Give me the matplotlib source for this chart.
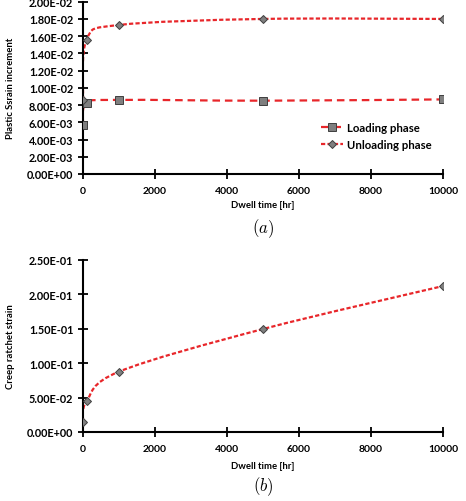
import numpy as np
import matplotlib
matplotlib.use("Agg")
import matplotlib.pyplot as plt
from matplotlib.path import Path
from matplotlib.patches import PathPatch
from matplotlib.lines import Line2D
from matplotlib.ticker import FuncFormatter

plt.rcParams['font.family'] = ['Lato', 'DejaVu Sans']
plt.rcParams['font.weight'] = 'bold'
plt.rcParams['mathtext.fontset'] = 'cm'

dwell = [1, 100, 1000, 5000, 10000]
loading = [0.00574, 0.00825, 0.0086, 0.00851, 0.00866]
unloading = [0.0086, 0.0156, 0.0173, 0.0180, 0.0180]
ratchet = [0.0150, 0.0445, 0.0875, 0.1494, 0.2118]

RED = '#e8262a'
GRAY = '#7f7f7f'
EDGE = '#3f3f3f'


def smooth_path(x, y):
    # excel-like smoothed line: catmull-rom turned into bezier segments
    pts = np.column_stack([x, y]).astype(float)
    n = len(pts)
    verts = [pts[0]]
    codes = [Path.MOVETO]
    for i in range(n - 1):
        p0 = pts[max(i - 1, 0)]
        p1 = pts[i]
        p2 = pts[i + 1]
        p3 = pts[min(i + 2, n - 1)]
        c1 = p1 + (p2 - p0) / 6.0
        c2 = p2 - (p3 - p1) / 6.0
        verts += [c1, c2, p2]
        codes += [Path.CURVE4] * 3
    return Path(verts, codes)


def add_series(ax, x, y, marker, ms, dashes, label=None):
    ax.add_patch(PathPatch(smooth_path(x, y), fill=False, edgecolor=RED,
                           lw=1.6, linestyle=(0, dashes), zorder=2))
    ax.plot(x, y, ls='none', marker=marker, ms=ms, mfc=GRAY, mec=EDGE,
            mew=0.7, zorder=3)
    return Line2D([], [], color=RED, lw=1.6, linestyle=(0, dashes),
                  marker=marker, ms=ms, mfc=GRAY, mec=EDGE, mew=0.7,
                  label=label)


def style_axes(ax, ylabel, xlab_y):
    for s in ['top', 'right']:
        ax.spines[s].set_visible(False)
    for s in ['left', 'bottom']:
        ax.spines[s].set_linewidth(1.5)
    ax.tick_params(direction='inout', length=7, width=1.3, labelsize=7.8)
    ax.tick_params(axis='x', pad=5, labelsize=7.5)
    ax.set_xlim(0, 10000)
    ax.set_xticks([0, 2000, 4000, 6000, 8000, 10000])
    ax.yaxis.set_major_formatter(FuncFormatter(lambda v, p: f"{v:.2E}"))
    ax.set_xlabel('Dwell time [hr]', fontsize=6.8, fontweight='bold')
    ax.xaxis.set_label_coords(0.5, xlab_y)
    ax.set_ylabel(ylabel, fontsize=6.8, fontweight='bold')
    ax.yaxis.set_label_coords(-0.188, 0.5)


fig = plt.figure(figsize=(4.66, 5.02), dpi=100)

ax1 = fig.add_axes([0.178, 0.6514, 0.773, 0.3432])
style_axes(ax1, 'Plastic Ssrain increment', -0.153)
ax1.set_ylim(0, 0.02)
ax1.set_yticks(np.arange(0, 0.0201, 0.002))
h1 = add_series(ax1, dwell, loading, 's', 5.5, (3.4, 2.2), 'Loading phase')
h2 = add_series(ax1, dwell, unloading, 'D', 4.5, (1.9, 1.0), 'Unloading phase')
ax1.legend(handles=[h1, h2], loc='lower left', bbox_to_anchor=(0.645, 0.105),
           frameon=False, fontsize=8.2, handlelength=1.9, handletextpad=0.4,
           borderpad=0, labelspacing=0.55)
fig.text(0.565, 1 - 229 / 502, r'$(a)$', fontsize=12, ha='center', va='center')

ax2 = fig.add_axes([0.178, 0.1375, 0.773, 0.3432])
style_axes(ax2, 'Creep ratchet strain', -0.168)
ax2.set_ylim(0, 0.25)
ax2.set_yticks(np.arange(0, 0.2501, 0.05))
add_series(ax2, dwell, ratchet, 'D', 4.5, (1.9, 1.0))
fig.text(0.565, 1 - 487 / 502, r'$(b)$', fontsize=12, ha='center', va='center')

fig.savefig('out.png', dpi=100)
